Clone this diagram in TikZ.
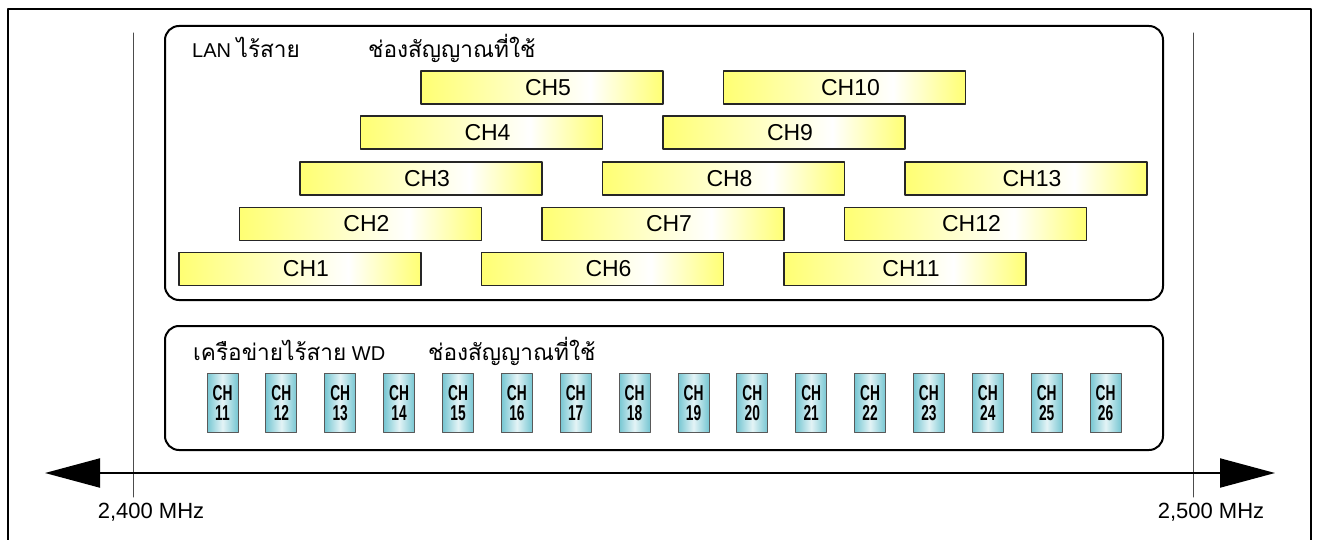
\documentclass[tikz,border=0pt]{standalone}
\usepackage{fontspec}
\setmainfont{Liberation Sans}
\newfontfamily\thaifont[Script=Thai,Scale=1.13]{Loma}
\newfontfamily\narrowfont[FakeStretch=0.64]{Liberation Sans Bold}
\usepackage{xcolor}
\usetikzlibrary{arrows.meta}
\definecolor{wlanyellow}{RGB}{255,255,115}
\definecolor{wdcyan}{RGB}{118,198,210}
\pgfdeclarehorizontalshading{wlanshade}{100bp}{color(0bp)=(wlanyellow); color(25bp)=(wlanyellow); color(60bp)=(white); color(75bp)=(wlanyellow); color(100bp)=(wlanyellow)}
\pgfdeclarehorizontalshading{wdshade}{100bp}{color(0bp)=(wdcyan); color(25bp)=(wdcyan); color(50bp)=(wdcyan!20); color(75bp)=(wdcyan); color(100bp)=(wdcyan)}

\begin{document}
\begin{tikzpicture}[line cap=round,line join=round,x=1pt,y=-1pt,
    wlan/.style={draw=black!85,line width=1.5pt,shading=wlanshade,inner sep=0pt,
        minimum width=242pt,minimum height=33pt,font=\fontsize{23}{26}\selectfont,
        execute at begin node=\hspace*{12pt}},
    wd/.style={draw=black!65,line width=1pt,shading=wdshade,inner sep=0pt,
        minimum width=31pt,minimum height=59pt,align=center,
        font=\narrowfont\fontsize{21.5}{20.5}\selectfont},
    band/.style={draw=black,line width=2pt,rounded corners=14pt},
    title/.style={anchor=base west,inner sep=0pt,font=\fontsize{20}{22}\selectfont}]
                \useasboundingbox (0,0) rectangle (1319,540);
                % frame, open at the bottom
                \draw [line width=2pt] (8,545)-- (8,9)-- (1311,9)-- (1311,545);
                % band edges
                \draw [line width=1pt,color=black!70] (133,33)-- (133,497);
                \draw [line width=1pt,color=black!70] (1193,33)-- (1193,497);
                \draw [band] (165,26) rectangle (1163,300);
                \draw [band] (165,326) rectangle (1163,450);
                % frequency axis
                \coordinate (lo) at (45,473);
                \coordinate (hi) at (1275,473);
                \draw [line width=2pt,{Triangle[length=55pt,width=29pt]}-{Triangle[length=55pt,width=29pt]}] (lo)-- (hi);
                \node (f2400) at (151,512) {\fontsize{22}{24}\selectfont 2,400 MHz};
                \node (f2500) at (1211,512) {\fontsize{22}{24}\selectfont 2,500 MHz};
                % wireless LAN channels
                \node [title] (wlantitle) at (192,58) {LAN {\thaifont ไร้สาย}};
                \node [title] (wlanused) at (368,58) {\thaifont ช่องสัญญาณที่ใช้};
                \node [wlan] (ch1) at (300,269) {CH1};
                \node [wlan] (ch2) at (360.5,224) {CH2};
                \node [wlan] (ch3) at (421,178.5) {CH3};
                \node [wlan] (ch4) at (481.5,132.5) {CH4};
                \node [wlan] (ch5) at (542,87.5) {CH5};
                \node [wlan] (ch6) at (602.5,269) {CH6};
                \node [wlan] (ch7) at (663,224) {CH7};
                \node [wlan] (ch8) at (723.5,178.5) {CH8};
                \node [wlan] (ch9) at (784,132.5) {CH9};
                \node [wlan] (ch10) at (844.5,87.5) {CH10};
                \node [wlan] (ch11) at (905,269) {CH11};
                \node [wlan] (ch12) at (965.5,224) {CH12};
                \node [wlan] (ch13) at (1026,178.5) {CH13};
                % WD channels
                \node [title] (wdtitle) at (193,360) {{\thaifont เครือข่ายไร้สาย} WD};
                \node [title] (wdused) at (428,360) {\thaifont ช่องสัญญาณที่ใช้};
                \node [wd] (wd11) at (222.5,403) {CH\\11};
                \node [wd] (wd12) at (281.4,403) {CH\\12};
                \node [wd] (wd13) at (340.2,403) {CH\\13};
                \node [wd] (wd14) at (399.1,403) {CH\\14};
                \node [wd] (wd15) at (458.0,403) {CH\\15};
                \node [wd] (wd16) at (516.9,403) {CH\\16};
                \node [wd] (wd17) at (575.7,403) {CH\\17};
                \node [wd] (wd18) at (634.6,403) {CH\\18};
                \node [wd] (wd19) at (693.5,403) {CH\\19};
                \node [wd] (wd20) at (752.3,403) {CH\\20};
                \node [wd] (wd21) at (811.2,403) {CH\\21};
                \node [wd] (wd22) at (870.1,403) {CH\\22};
                \node [wd] (wd23) at (928.9,403) {CH\\23};
                \node [wd] (wd24) at (987.8,403) {CH\\24};
                \node [wd] (wd25) at (1046.7,403) {CH\\25};
                \node [wd] (wd26) at (1105.6,403) {CH\\26};
\end{tikzpicture}
\end{document}
